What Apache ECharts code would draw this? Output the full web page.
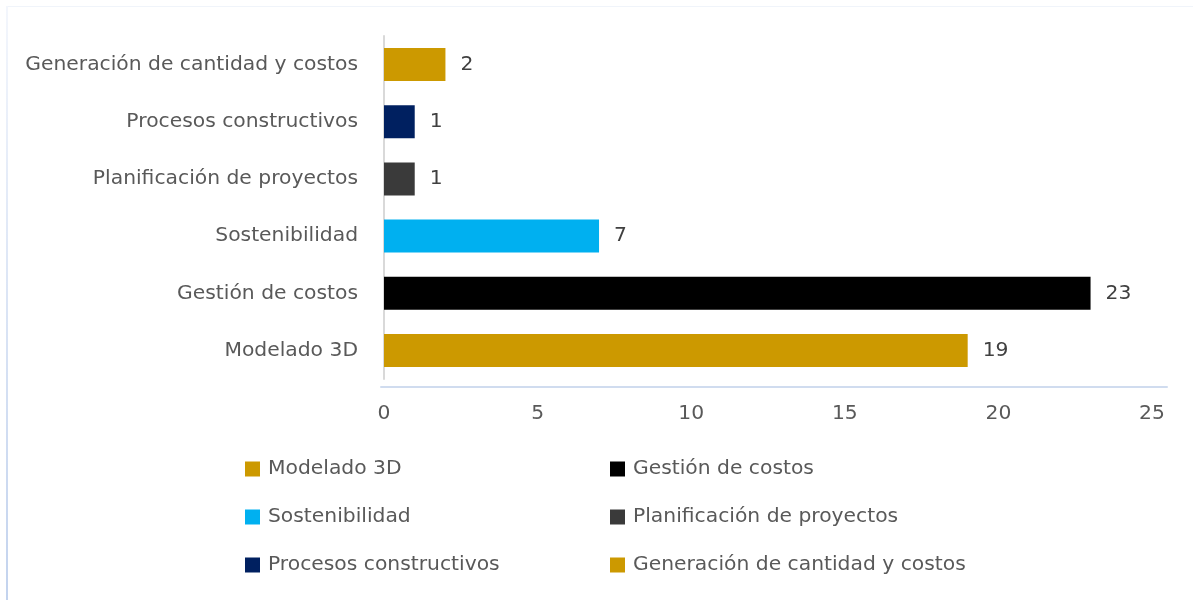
<!DOCTYPE html>
<html>
<head>
<meta charset="utf-8">
<script src="https://cdn.jsdelivr.net/npm/echarts@6/dist/echarts.min.js"></script>
<style>
html,body{margin:0;padding:0;background:#fff;}
#frame{position:absolute;left:6px;top:6px;right:0;bottom:0;border-top:1px solid #f0f4fa;}
#edge{position:absolute;left:6px;top:6px;width:2px;bottom:0;background:linear-gradient(to bottom,#f3f6fc 0%,#c3d3ee 100%);}
#chart{position:absolute;left:0;top:0;width:1193px;height:600px;}
</style>
</head>
<body>
<div id="frame"></div>
<div id="edge"></div>
<div id="chart"></div>
<script>
const categories = ['Modelado 3D','Gestión de costos','Sostenibilidad','Planificación de proyectos','Procesos constructivos','Generación de cantidad y costos'];
const values = [19, 23, 7, 1, 1, 2];
const colors = ['#CC9900','#000000','#00B0F0','#3A3A3A','#002060','#CC9900'];
const xTicks = {min:0, max:25, interval:5};
const legendLeftCol = ['Modelado 3D','Sostenibilidad','Procesos constructivos'];
const legendRightCol = ['Gestión de costos','Planificación de proyectos','Generación de cantidad y costos'];

const FONT = 'DejaVu Sans';
const FS = 20.3;
const series = categories.map((name, i) => ({
  name: name,
  type: 'bar',
  stack: 'all',
  barWidth: 33,
  xAxisIndex: 0, yAxisIndex: 0,
  itemStyle: {color: colors[i]},
  label: {show: true, position: 'right', distance: 15, color: '#404040', fontSize: FS, fontFamily: FONT},
  data: categories.map((c, j) => j === i ? values[i] : '-')
}));

const legendCommon = {
  orient: 'vertical', top: 459, padding: 0, itemWidth: 15, itemHeight: 15, itemGap: 28,
  icon: 'rect', selectedMode: false,
  textStyle: {color: '#595959', fontSize: FS, fontFamily: FONT, padding: [0,0,0,3]}
};

const chart = echarts.init(document.getElementById('chart'));
chart.setOption({
  animation: false,
  grid: [
    {left: 384, right: 41, top: 36, bottom: 221},
    {left: 381, right: 26, top: 387, height: 0}
  ],
  xAxis: [
    {type: 'value', gridIndex: 0, min: xTicks.min, max: xTicks.max, interval: xTicks.interval,
     splitLine: {show: false}, axisLine: {show: false}, axisTick: {show: false},
     axisLabel: {margin: 25, color: '#595959', fontSize: FS, fontFamily: FONT}},
    {type: 'value', gridIndex: 1, min: 0, max: 1, position: 'bottom',
     splitLine: {show: false}, axisTick: {show: false}, axisLabel: {show: false},
     axisLine: {show: true, lineStyle: {color: '#d0dcef', width: 2}}}
  ],
  yAxis: [
    {type: 'category', gridIndex: 0, data: categories,
     axisLine: {show: true, lineStyle: {color: '#d9d9d9', width: 2}}, axisTick: {show: false},
     axisLabel: {margin: 26, color: '#595959', fontSize: FS, fontFamily: FONT}},
    {type: 'value', gridIndex: 1, show: false}
  ],
  legend: [
    Object.assign({left: 245, data: legendLeftCol}, legendCommon),
    Object.assign({left: 610, data: legendRightCol}, legendCommon)
  ],
  series: series
});
</script>
</body>
</html>
